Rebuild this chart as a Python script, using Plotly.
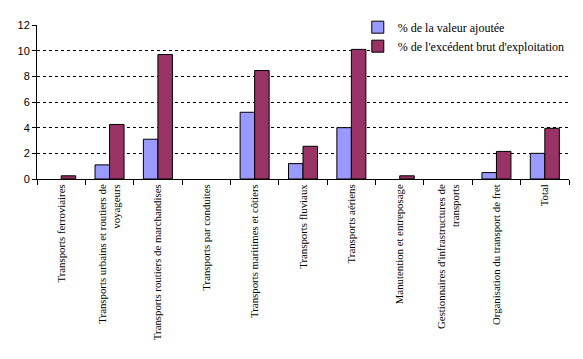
import plotly.graph_objects as go

categories = [
    "Transports ferroviaires",
    "Transports urbains et routiers de<br>voyageurs",
    "Transports routiers de marchandises",
    "Transports par conduites",
    "Transports maritimes et côtiers",
    "Transports fluviaux",
    "Transports aériens",
    "Manutention et entreposage",
    "Gestionnaires d'infrastructures de<br>transports",
    "Organisation du transport de fret",
    "Total",
]
valeur_ajoutee = [0, 1.1, 3.1, 0, 5.2, 1.2, 4.0, 0, 0, 0.5, 2.0]
excedent_brut = [0.25, 4.25, 9.7, 0, 8.45, 2.55, 10.1, 0.25, 0, 2.15, 3.95]
y_ticks = [0, 2, 4, 6, 8, 10, 12]

SERIF = "Liberation Serif, Times New Roman, Times, serif"


def hide_zero(values):
    # zero-height bars are not drawn in the reference
    return [v if v else None for v in values]


fig = go.Figure()
fig.add_trace(go.Bar(
    x=categories, y=hide_zero(valeur_ajoutee), name="% de la valeur ajoutée",
    marker=dict(color="#9999FF", line=dict(color="black", width=1)),
))
fig.add_trace(go.Bar(
    x=categories, y=hide_zero(excedent_brut), name="% de l'excédent brut d'exploitation",
    marker=dict(color="#993366", line=dict(color="black", width=1)),
))

# white area behind the legend hiding the gridlines there
fig.add_shape(
    type="rect", xref="paper", yref="paper",
    x0=0.651, x1=1.0, y0=0.78, y1=1.07,
    fillcolor="white", line=dict(width=0), layer="above",
)

# page body has an 8px margin: figure sized to fit the 583x359 window
fig.update_layout(
    width=575, height=351,
    margin=dict(l=29, r=14, t=17, b=180, autoexpand=False),
    paper_bgcolor="white", plot_bgcolor="white",
    barmode="group", bargap=0.4, bargroupgap=0,
    font=dict(family=SERIF, size=10.8, color="black"),
    showlegend=True,
    legend=dict(
        x=0.603, y=1.08, xanchor="left", yanchor="top",
        bgcolor="rgba(0,0,0,0)", borderwidth=0,
        font=dict(family=SERIF, size=12, color="black"),
        itemwidth=30, tracegroupgap=0,
    ),
    xaxis=dict(
        type="category", tickangle=-90, tickson="boundaries",
        ticks="outside", ticklen=5, tickcolor="black",
        showline=True, linecolor="black", linewidth=1,
        showgrid=False, automargin=False,
        tickfont=dict(family=SERIF, size=10.8),
    ),
    yaxis=dict(
        range=[0, 12], tickvals=y_ticks, ticks="outside", ticklen=4,
        tickcolor="black", showline=True, linecolor="black", linewidth=1,
        showgrid=True, gridcolor="black", gridwidth=1, griddash="3px,3px",
        zeroline=False, automargin=False,
        tickfont=dict(family="Liberation Sans, Arial, sans-serif", size=11),
    ),
)

fig.write_html("out.html")
